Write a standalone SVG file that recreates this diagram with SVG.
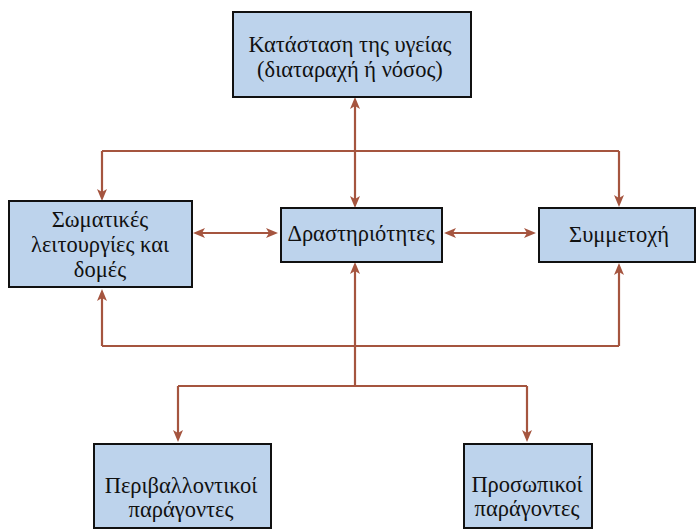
<svg xmlns="http://www.w3.org/2000/svg" width="696" height="529" viewBox="0 0 696 529">
<style>
.box{fill:#bdd3ec;stroke:#111;stroke-width:2}
.t{font-family:"Liberation Serif","Times New Roman",serif;font-size:22.5px;fill:#111;text-anchor:middle}
.c{fill:none;stroke:#a5553f;stroke-width:2.2}
.e{marker-end:url(#ah)}
.d{marker-start:url(#ahs);marker-end:url(#ah)}
</style>
<defs>
<marker id="ah" viewBox="0 0 12 10" refX="4" refY="5" markerWidth="12" markerHeight="10" markerUnits="userSpaceOnUse" orient="auto">
<path d="M0,0 L12,5 L0,10 L3,5 z" fill="#a5553f"/>
</marker>
<marker id="ahs" viewBox="0 0 12 10" refX="4" refY="5" markerWidth="12" markerHeight="10" markerUnits="userSpaceOnUse" orient="auto-start-reverse">
<path d="M0,0 L12,5 L0,10 L3,5 z" fill="#a5553f"/>
</marker>
</defs>
<g id="connectors">
<path class="c d" d="M355,105 L355,200"/>
<path class="c" d="M102,151 L619,151"/>
<path class="c e" d="M102,151 L102,193"/>
<path class="c e" d="M619,151 L619,199"/>
<path class="c" d="M102,346 L619,346"/>
<path class="c e" d="M102,346 L102,297"/>
<path class="c e" d="M619,346 L619,271"/>
<path class="c e" d="M355,386 L355,270"/>
<path class="c" d="M178,386 L527,386"/>
<path class="c e" d="M178,386 L178,434"/>
<path class="c e" d="M527,386 L527,434"/>
<path class="c d" d="M201,233 L270,233"/>
<path class="c d" d="M452,233 L528,233"/>
</g>
<g id="health">
<rect class="box" x="233" y="12" width="238" height="85"/>
<text class="t" x="350" y="52">Κατάσταση της υγείας</text>
<text class="t" x="350" y="77">(διαταραχή ή νόσος)</text>
</g>
<g id="body">
<rect class="box" x="9" y="201" width="183" height="86"/>
<text class="t" x="100" y="227">Σωματικές</text>
<text class="t" x="100" y="252">λειτουργίες και</text>
<text class="t" x="100" y="277">δομές</text>
</g>
<g id="activities">
<rect class="box" x="281" y="208" width="161" height="54"/>
<text class="t" x="361" y="241">Δραστηριότητες</text>
</g>
<g id="participation">
<rect class="box" x="539" y="208" width="156" height="54"/>
<text class="t" x="619" y="242">Συμμετοχή</text>
</g>
<g id="environmental">
<rect class="box" x="94" y="444" width="177" height="84"/>
<text class="t" x="181" y="493">Περιβαλλοντικοί</text>
<text class="t" x="181" y="517">παράγοντες</text>
</g>
<g id="personal">
<rect class="box" x="464" y="444" width="128" height="84"/>
<text class="t" x="527" y="492">Προσωπικοί</text>
<text class="t" x="527" y="516">παράγοντες</text>
</g>
</svg>
